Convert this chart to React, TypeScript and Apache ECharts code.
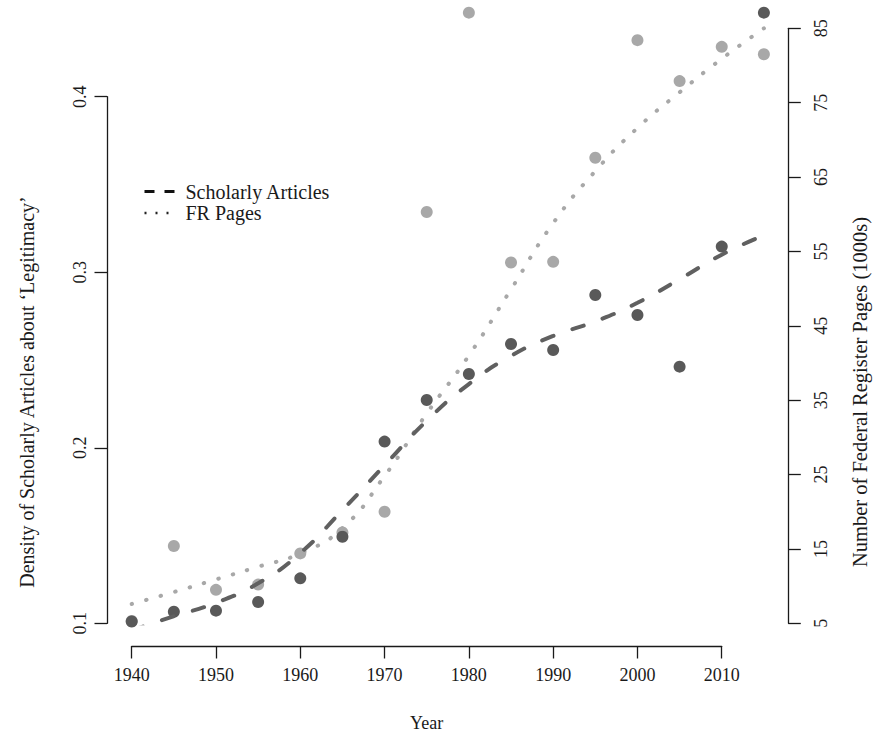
import React, { useEffect, useRef } from "react";
import * as echarts from "echarts";

const years = [1940, 1945, 1950, 1955, 1960, 1965, 1970, 1975, 1980, 1985, 1990, 1995, 2000, 2005, 2010, 2015];
const scholarly = [0.101, 0.1066, 0.1072, 0.1121, 0.1256, 0.1493, 0.2035, 0.2272, 0.242, 0.2591, 0.2557, 0.287, 0.2756, 0.2462, 0.3146, 0.4479];
const frPages = [5.3, 15.4, 9.5, 10.2, 14.4, 17.2, 20.0, 60.3, 87.1, 53.5, 53.6, 67.6, 83.4, 77.9, 82.5, 81.5];
const scholarlyFit = [0.096, 0.104, 0.1117, 0.1228, 0.14, 0.1645, 0.19, 0.2154, 0.2363, 0.2523, 0.2637, 0.272, 0.2826, 0.296, 0.31, 0.321];
const frFit = [7.6, 9.2, 10.9, 12.6, 14.4, 17.8, 24.8, 33.2, 41.0, 49.9, 58.8, 65.8, 71.6, 76.4, 80.9, 85.0];

const xTicks = { min: 1940, max: 2010, interval: 10 };
const leftTicks = { min: 0.1, max: 0.4, interval: 0.1 };
const rightTicks = { min: 5, max: 85, interval: 10 };

const FONT = "Liberation Serif";
const INK = "#1a1a1a";
const DARK = "#595959";
const LIGHT = "#a8a8a8";

export default function App() {
  const ref = useRef<HTMLDivElement>(null);
  useEffect(() => {
    if (!ref.current) return;
    const chart = echarts.init(ref.current, undefined, { renderer: "svg" });
    const axisLine = { show: true, lineStyle: { color: INK, width: 1.3 } };
    const axisTick = { show: true, inside: false, length: 12.5, lineStyle: { color: INK, width: 1.3 } };
    const hidden = { show: false };
    const option: any = {
      animation: false,
      backgroundColor: "#ffffff",
      textStyle: { fontFamily: FONT },
      grid: [
        { left: 131.7, width: 632.2, top: 8.94, height: 614.36 },
        { left: 107, width: 1, top: 96.7, height: 526.6 },
        { left: 788.3, width: 1, top: 28.3, height: 595 },
        { left: 131.7, width: 590, top: 645, height: 1 },
        { left: 107, width: 682.3, top: 192, height: 400 },
      ],
      xAxis: [
        { type: "value", gridIndex: 0, min: 1940, max: 2015, ...hidden },
        { type: "value", gridIndex: 1, ...hidden },
        { type: "value", gridIndex: 2, ...hidden },
        {
          type: "value",
          gridIndex: 3,
          position: "bottom",
          min: xTicks.min,
          max: xTicks.max,
          interval: xTicks.interval,
          axisLine,
          axisTick,
          splitLine: { show: false },
          axisLabel: { color: INK, fontFamily: FONT, fontSize: 18, margin: 20, formatter: (v: number) => String(v) },
          name: "Year",
          nameLocation: "middle",
          nameGap: 68,
          nameTextStyle: { color: INK, fontFamily: FONT, fontSize: 18 },
        },
        { type: "value", gridIndex: 4, ...hidden },
      ],
      yAxis: [
        { type: "value", gridIndex: 0, min: 0.1, max: 0.45, ...hidden },
        { type: "value", gridIndex: 0, min: 5, max: 87.6, ...hidden },
        {
          type: "value",
          gridIndex: 1,
          position: "left",
          min: leftTicks.min,
          max: leftTicks.max,
          interval: leftTicks.interval,
          axisLine,
          axisTick,
          splitLine: { show: false },
          axisLabel: {
            color: INK,
            fontFamily: FONT,
            fontSize: 18,
            rotate: 90,
            margin: 18,
            formatter: (v: number) => v.toFixed(1),
          },
        },
        {
          type: "value",
          gridIndex: 2,
          position: "right",
          min: rightTicks.min,
          max: rightTicks.max,
          interval: rightTicks.interval,
          axisLine,
          axisTick,
          splitLine: { show: false },
          axisLabel: { color: INK, fontFamily: FONT, fontSize: 18, rotate: 90, margin: 23 },
        },
        { type: "value", gridIndex: 3, ...hidden },
        {
          type: "value",
          gridIndex: 4,
          position: "left",
          axisLine: { show: false },
          axisTick: { show: false },
          axisLabel: { show: false },
          splitLine: { show: false },
          name: "Density of Scholarly Articles about \u2018Legitimacy\u2019",
          nameLocation: "middle",
          nameRotate: 90,
          nameGap: 70,
          nameTextStyle: { color: INK, fontFamily: FONT, fontSize: 20 },
        },
        {
          type: "value",
          gridIndex: 4,
          position: "right",
          axisLine: { show: false },
          axisTick: { show: false },
          axisLabel: { show: false },
          splitLine: { show: false },
          name: "Number of Federal Register Pages (1000s)",
          nameLocation: "middle",
          nameRotate: 90,
          nameGap: 72,
          nameTextStyle: { color: INK, fontFamily: FONT, fontSize: 20.5 },
        },
      ],
      legend: {
        orient: "vertical",
        left: 138,
        top: 176.5,
        itemWidth: 30,
        itemHeight: 14,
        itemGap: 1.6,
        selectedMode: false,
        textStyle: { color: INK, fontFamily: FONT, fontSize: 20, lineHeight: 20, padding: [0, 0, 0, 6] },
        data: [
          {
            name: "Scholarly Articles",
            itemStyle: { opacity: 0 },
            lineStyle: { color: "#111", type: [10, 10], width: 3, cap: "butt", opacity: 1 },
          },
          {
            name: "FR Pages",
            itemStyle: { opacity: 0 },
            lineStyle: { color: "#222", type: [2, 9], width: 2.5, cap: "butt", opacity: 1 },
          },
        ],
      },
      series: [
        {
          name: "FR Pages (points)",
          type: "scatter",
          xAxisIndex: 0,
          yAxisIndex: 1,
          symbolSize: 12,
          itemStyle: { color: LIGHT, opacity: 1 },
          data: years.map((y, i) => [y, frPages[i]]),
        },
        {
          name: "Scholarly Articles (points)",
          type: "scatter",
          xAxisIndex: 0,
          yAxisIndex: 0,
          symbolSize: 12,
          itemStyle: { color: DARK, opacity: 1 },
          data: years.map((y, i) => [y, scholarly[i]]),
        },
        {
          name: "FR Pages",
          type: "line",
          xAxisIndex: 0,
          yAxisIndex: 1,
          smooth: true,
          symbol: "none",
          itemStyle: { color: LIGHT },
          lineStyle: { color: LIGHT, width: 4, type: [0.5, 14.5], cap: "round" },
          data: years.map((y, i) => [y, frFit[i]]),
        },
        {
          name: "Scholarly Articles",
          type: "line",
          xAxisIndex: 0,
          yAxisIndex: 0,
          smooth: true,
          symbol: "none",
          itemStyle: { color: "#606060" },
          lineStyle: { color: "#606060", width: 4, type: [12, 20], cap: "round" },
          data: years.map((y, i) => [y, scholarlyFit[i]]),
        },
      ],
    };
    chart.setOption(option);
    return () => chart.dispose();
  }, []);
  return (
    <div
      ref={ref}
      style={{ position: "fixed", left: 0, top: 0, width: 878, height: 734, background: "#fff" }}
    />
  );
}
